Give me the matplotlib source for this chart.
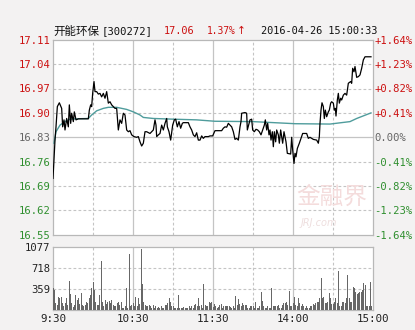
import matplotlib
matplotlib.use("Agg")
import matplotlib.pyplot as plt

# price trace, minutes after 9:30 (lunch break removed) and price
price_min = [0, 1.5, 2.25, 3.25, 4.75, 6.5, 7.25, 8.25, 9, 10.25, 11.5, 12.25, 13.25, 14, 15.25, 16,
             17.25, 19, 26.5, 27.25, 28.25, 29, 29.75, 30.75, 31.5, 32.75, 34, 35.25, 36.5, 37.75,
             39, 40.25, 41.5, 42.75, 44, 46.5, 47.75, 49, 50.25, 51.5, 52.75, 54, 55.25, 56.5,
             57.75, 59, 60.75, 62.75, 64, 65.25, 66.5, 67.75, 69, 70.25, 72.75, 74, 75.25, 76.5,
             77.25, 77.75, 79, 80.25, 81.5, 82.75, 84, 85.25, 85.75, 87, 88.25, 89.75, 91, 92,
             93.25, 94.5, 95.75, 97, 97.75, 101.5, 102.75, 104, 105.25, 106.5, 107.75, 109, 110.25,
             111.5, 112.75, 114, 116.5, 117.75, 119.75, 121.5, 126.5, 127.75, 129, 130.25, 131.5,
             132.75, 134, 135.25, 136.5, 137.75, 139, 140.25, 141, 141.5, 144, 145.25, 145.75,
             146.75, 147.75, 149, 149.75, 151, 152.25, 153.5, 154.75, 156, 157.25, 158.5, 159.25,
             160.25, 161, 162, 162.75, 163.5, 164.5, 165.25, 166, 167, 167.75, 169, 169.75, 170.75,
             172.25, 173.25, 174.75, 175.75, 178.25, 179, 179.75, 180.75, 181.5, 182.25, 183.25,
             184.75, 186, 187.25, 190.25, 191.5, 192.75, 194, 195.25, 197.75, 199, 199.75, 200.25,
             201, 201.75, 202.75, 203.5, 204.25, 205.25, 206.5, 207.25, 208.25, 209, 210.25, 211,
             211.75, 212.25, 213.25, 214, 214.75, 215.75, 216.5, 217.75, 219, 220.25, 221.5, 222.25,
             223.25, 224, 224.75, 225.75, 226.5, 227.75, 229, 230.25, 231.5, 232.75, 234, 238.5]
price = [16.712, 16.822, 16.860, 16.918, 16.929, 16.913, 16.860, 16.880, 16.851, 16.884, 16.860,
         16.923, 16.870, 16.899, 16.875, 16.903, 16.880, 16.883, 16.883, 16.908, 16.923, 16.918,
         16.956, 16.990, 16.961, 16.961, 16.954, 16.956, 16.946, 16.956, 16.942, 16.961, 16.928,
         16.932, 16.923, 16.913, 16.913, 16.851, 16.880, 16.870, 16.899, 16.894, 16.851, 16.846,
         16.849, 16.837, 16.832, 16.830, 16.832, 16.817, 16.805, 16.813, 16.846, 16.846, 16.841,
         16.846, 16.851, 16.880, 16.865, 16.832, 16.837, 16.841, 16.865, 16.851, 16.870, 16.884,
         16.860, 16.846, 16.822, 16.865, 16.880, 16.882, 16.860, 16.875, 16.856, 16.870, 16.872,
         16.872, 16.860, 16.851, 16.837, 16.832, 16.843, 16.822, 16.822, 16.834, 16.827, 16.832,
         16.832, 16.834, 16.834, 16.849, 16.849, 16.856, 16.860, 16.859, 16.870, 16.865, 16.860,
         16.846, 16.824, 16.827, 16.822, 16.860, 16.875, 16.899, 16.901, 16.899, 16.851, 16.865,
         16.880, 16.882, 16.851, 16.846, 16.853, 16.851, 16.846, 16.837, 16.851, 16.865, 16.880,
         16.851, 16.870, 16.837, 16.851, 16.822, 16.846, 16.803, 16.846, 16.817, 16.851, 16.837,
         16.813, 16.851, 16.813, 16.846, 16.817, 16.784, 16.782, 16.830, 16.794, 16.755, 16.784,
         16.774, 16.798, 16.813, 16.827, 16.841, 16.841, 16.827, 16.830, 16.827, 16.824, 16.822,
         16.813, 16.832, 16.870, 16.908, 16.929, 16.918, 16.884, 16.908, 16.889, 16.903, 16.908,
         16.928, 16.932, 16.928, 16.908, 16.913, 16.891, 16.937, 16.956, 16.928, 16.942, 16.937,
         16.951, 16.956, 16.951, 16.985, 16.987, 16.990, 16.985, 17.028, 17.018, 17.033, 17.002,
         17.004, 17.009, 17.028, 17.052, 17.061, 17.061]

# average price line
avg_min = [0.75, 2.25, 5.25, 9, 12.75, 17.25, 26.5, 29, 32.75, 37.75, 41.5, 47.75, 55.25, 60.25,
           65.25, 67.75, 75.25, 90.25, 107.75, 121.5, 150, 181.5, 207.75, 222.75, 227.75, 238.5]
avg_price = [16.813, 16.846, 16.865, 16.875, 16.882, 16.883, 16.884, 16.894, 16.906, 16.913, 16.916,
             16.916, 16.910, 16.903, 16.894, 16.887, 16.884, 16.882, 16.880, 16.876, 16.875, 16.869,
             16.868, 16.875, 16.884, 16.900]

# volume per minute (0..240)
volume = [370, 340, 120, 90, 230, 200, 230, 115, 60, 115,
          200, 80, 500, 270, 115, 50, 90, 255, 170, 200,
          110, 285, 80, 60, 80, 140, 120, 200, 255, 370,
          485, 340, 140, 80, 80, 255, 838, 140, 60, 170,
          100, 140, 150, 115, 170, 80, 60, 60, 115, 140,
          80, 140, 30, 30, 60, 370, 40, 950, 60, 80,
          115, 60, 230, 60, 200, 100, 1045, 450, 140, 80,
          60, 60, 80, 60, 40, 80, 30, 60, 40, 50,
          30, 60, 30, 40, 80, 80, 115, 200, 140, 60,
          60, 40, 40, 40, 255, 40, 30, 40, 50, 30,
          30, 40, 60, 30, 60, 30, 80, 95, 60, 200,
          60, 80, 40, 445, 80, 60, 60, 140, 115, 145,
          50, 95, 60, 40, 50, 80, 95, 40, 60, 60,
          60, 60, 60, 50, 40, 60, 30, 240, 80, 190,
          95, 60, 115, 80, 80, 80, 40, 40, 60, 60,
          70, 40, 130, 30, 40, 60, 300, 150, 60, 40,
          40, 60, 40, 40, 380, 70, 70, 60, 60, 80,
          40, 40, 80, 115, 115, 140, 80, 325, 60, 60,
          115, 230, 80, 60, 200, 115, 60, 95, 60, 30,
          60, 40, 40, 60, 60, 95, 80, 115, 140, 140,
          210, 540, 200, 230, 115, 115, 140, 285, 200, 95,
          95, 140, 200, 115, 665, 60, 60, 140, 140, 115,
          210, 600, 200, 140, 140, 400, 370, 315, 270, 285,
          315, 315, 340, 455, 430, 60, 60, 60, 473, 60,
          0]

price_ticks = [16.55, 16.62, 16.69, 16.76, 16.83, 16.90, 16.97, 17.04, 17.11]
pct_labels = ["-1.64%", "-1.23%", "-0.82%", "-0.41%", "0.00%", "+0.41%", "+0.82%", "+1.23%", "+1.64%"]
prev_close = 16.83
vol_ticks = [359, 718, 1077]
time_ticks = [0, 60, 120, 180, 240]
time_labels = ["9:30", "10:30", "11:30", "14:00", "15:00"]

RED = "#cc1010"
GREEN = "#2f8f2f"
GREY = "#666666"
GRIDC = "#c4c4c4"
MONO = "DejaVu Sans Mono"


def grid(ax, hlines, solid_h):
    for h in hlines:
        if h == solid_h:
            ax.axhline(h, color=GRIDC, lw=0.9, zorder=1)
        else:
            ax.axhline(h, color=GRIDC, lw=0.8, ls=(0, (2.5, 2)), zorder=1)
    for m in [30, 60, 90, 120, 150, 180, 210]:
        if m % 60 == 0:
            ax.axvline(m, color=GRIDC, lw=0.9, zorder=1)
        else:
            ax.axvline(m, color=GRIDC, lw=0.8, ls=(0, (2.5, 2)), zorder=1)
    for s in ax.spines.values():
        s.set_color("#b8b8b8")
        s.set_linewidth(0.9)


def main():
    W, H = 415, 330
    fig = plt.figure(figsize=(W / 100, H / 100), dpi=100, facecolor="#f3f2f2")

    def px(x0, y_top, x1, y_bot):
        return [x0 / W, 1 - y_bot / H, (x1 - x0) / W, (y_bot - y_top) / H]

    ax = fig.add_axes(px(53, 39.7, 373, 234.9))
    ax.set_xlim(0, 240)
    ax.set_ylim(16.55, 17.11)
    grid(ax, price_ticks[1:-1], prev_close)
    ax.plot(avg_min, avg_price, color="#4f9c9c", lw=1.0, zorder=3)
    ax.plot(price_min, price, color="black", lw=0.9, zorder=4)

    ax.set_xticks([])
    ax.set_yticks(price_ticks)
    ax.set_yticklabels(["%.2f" % p for p in price_ticks], family=MONO, fontsize=7.6)
    ax.tick_params(axis="y", length=0, pad=2)
    ax2 = ax.twinx()
    ax2.set_ylim(ax.get_ylim())
    ax2.set_yticks(price_ticks)
    ax2.set_yticklabels(pct_labels, family=MONO, fontsize=7.6)
    ax2.tick_params(axis="y", length=0, pad=1)
    for s in ax2.spines.values():
        s.set_visible(False)
    for labs in (ax.get_yticklabels(), ax2.get_yticklabels()):
        for p, t in zip(price_ticks, labs):
            if p > prev_close + 0.001:
                t.set_color(RED)
            elif p < prev_close - 0.001:
                t.set_color(GREEN)
            else:
                t.set_color(GREY)

    # watermark
    ax.text(0.87, 0.19, "金融界", transform=ax.transAxes, ha="center", va="center",
            fontsize=17, family="Noto Sans CJK SC", color="#f4dcdc", zorder=2)
    ax.text(0.83, 0.06, "JRJ.com", transform=ax.transAxes, ha="center", va="center",
            fontsize=7, color="#eedede", zorder=2, style="italic")

    vax = fig.add_axes(px(53, 247, 373, 310))
    vax.set_xlim(0, 240)
    vax.set_ylim(0, 1077)
    grid(vax, vol_ticks[:-1], None)
    vax.bar(range(len(volume)), volume, width=0.75, color="#676767", zorder=3)
    vax.set_yticks(vol_ticks)
    vax.set_yticklabels([str(v) for v in vol_ticks], family=MONO, fontsize=7.6, color="#222222")
    vax.set_xticks(time_ticks)
    vax.set_xticklabels(time_labels, family=MONO, fontsize=7.8, color="#222222")
    vax.tick_params(length=0, pad=2)
    vax.tick_params(axis="x", pad=3)

    # header line
    ty = 1 - 31 / H
    fig.text(53 / W, ty, "开能环保", family="Noto Sans CJK SC", fontsize=8.3, va="center", color="#111111")
    fig.text(102 / W, ty, "[300272]", family=MONO, fontsize=7.6, va="center", color="#111111")
    fig.text(164 / W, ty, "17.06", family=MONO, fontsize=7.4, va="center", color=RED)
    fig.text(207 / W, ty, "1.37%", family=MONO, fontsize=6.9, va="center", color=RED)
    fig.text(237 / W, ty, "↑", family="DejaVu Sans", fontsize=7.6, va="center", color=RED)
    fig.text(261 / W, ty, "2016-04-26 15:00:33", family=MONO, fontsize=7.4, va="center", color="#111111")

    fig.savefig("out.png", dpi=100, facecolor=fig.get_facecolor())


if __name__ == '__main__':
    main()
